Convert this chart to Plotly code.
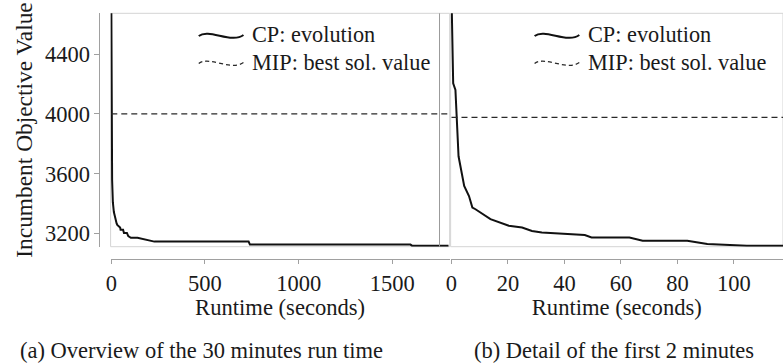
import plotly.graph_objects as go

# ---- data ----
time_s = [0, 0.6, 1.4, 1.6, 2.5, 4.5, 6.2, 7.4, 8.5, 13.8, 20.3, 25, 28.5, 32, 39,
          47.2, 49.6, 63, 67.7, 83.5, 90.6, 104.6, 140, 230, 733, 740, 1597, 1605, 1800]
cp_value = [4800, 4221, 4178, 4100, 3749, 3557, 3492, 3418, 3407, 3343, 3300, 3289, 3267, 3257, 3251,
            3240, 3225, 3225, 3203, 3203, 3182, 3171, 3171, 3145, 3145, 3125, 3125, 3118, 3118]
mip_value = 4000
marker_time = 1752

series_names = ["CP: evolution", "MIP: best sol. value"]
x_ticks_left = [0, 500, 1000, 1500]
x_ticks_right = [0, 20, 40, 60, 80, 100]
y_ticks = [3200, 3600, 4000, 4400]
captions = ["(a) Overview of the 30 minutes run time", "(b) Detail of the first 2 minutes"]

W, H = 783, 363
FONT = "Liberation Serif"
TXT = "#1a1a1a"
AX = "#a0a0a0"
BOX = "#d4d4d4"
CP_LINE = dict(color="#111111", width=2)
MIP_LINE = dict(color="#2a2a2a", width=1.3, dash="6px,4px")


def px(x):
    return x / W


def py(y):
    return (H - y) / H


fig = go.Figure()

for xa, ya in (("x", "y"), ("x2", "y2")):
    fig.add_trace(go.Scatter(x=time_s, y=cp_value, mode="lines", name=series_names[0],
                             line=CP_LINE, xaxis=xa, yaxis=ya, showlegend=False))
    fig.add_trace(go.Scatter(x=[time_s[0], time_s[-1]], y=[mip_value, mip_value], mode="lines",
                             name=series_names[1], line=MIP_LINE,
                             xaxis=xa, yaxis=ya, showlegend=False))

ydom = [py(246.7), py(13.3)]
tickfont = dict(family=FONT, size=22.5, color=TXT)
xtitlefont = dict(family=FONT, size=22.6, color=TXT)
ytitlefont = dict(family=FONT, size=23.4, color=TXT)

fig.update_layout(
    width=W, height=H,
    margin=dict(l=0, r=0, t=0, b=0),
    paper_bgcolor="white", plot_bgcolor="white",
    font=dict(family=FONT, size=23, color=TXT),
    showlegend=False,
    xaxis=dict(domain=[px(106.3), px(447.5)], range=[-3.5, 1806], anchor="free", position=py(258.5),
               tickvals=x_ticks_left, ticks="outside", ticklen=4, tickcolor=AX, showline=True,
               linecolor=AX, linewidth=1, showgrid=False, zeroline=False, tickfont=tickfont,
               title=dict(text="Runtime (seconds)", font=xtitlefont, standoff=4)),
    yaxis=dict(domain=ydom, range=[3111, 4673], anchor="free", position=px(95),
               tickvals=y_ticks, ticks="outside", ticklen=5, tickcolor=AX, showline=True,
               linecolor=AX, linewidth=1, showgrid=False, zeroline=False, tickfont=tickfont,
               title=dict(text="Incumbent Objective Value", font=ytitlefont, standoff=4)),
    xaxis2=dict(domain=[px(448.5), 1.0], range=[-0.3, 117.4], anchor="free", position=py(258.5),
                tickvals=x_ticks_right, ticks="outside", ticklen=4, tickcolor=AX, showline=True,
                linecolor=AX, linewidth=1, showgrid=False, zeroline=False, tickfont=tickfont,
                title=dict(text="Runtime (seconds)", font=xtitlefont, standoff=4)),
    yaxis2=dict(domain=ydom, range=[3165, 4673], anchor="x2", showticklabels=False, ticks="",
                showline=False, showgrid=False, zeroline=False),
)

# plot frames
for xr, yr in (("x domain", "y domain"), ("x2 domain", "y2 domain")):
    fig.add_shape(type="rect", xref=xr, yref=yr, x0=0, x1=1, y0=0, y1=1,
                  line=dict(color=BOX, width=1), fillcolor="rgba(0,0,0,0)", layer="below")

fig.add_shape(type="line", xref="x", yref="y domain", x0=marker_time, x1=marker_time, y0=0, y1=1,
              line=dict(color="#9a9a9a", width=1))


# legends (wavy line samples + labels), one per panel
def wave_path(x0, yc):
    pts = [(x0, yc + 1), (x0 + 10, yc - 7), (x0 + 33, yc + 9), (x0 + 45, yc)]
    (a, b), (c, d), (e, f), (g, h) = [(px(x), py(y)) for x, y in pts]
    return f"M{a},{b} C{c},{d} {e},{f} {g},{h}"


for gx, tx in ((195, 248), (533, 586)):
    for row, (name, style) in enumerate(zip(series_names, (CP_LINE, dict(MIP_LINE, dash="4px,3px")))):
        yc = 35 + row * 27.5
        fig.add_shape(type="path", xref="paper", yref="paper", path=wave_path(gx, yc),
                      line=style, fillcolor="rgba(0,0,0,0)")
        fig.add_annotation(text=name, xref="paper", yref="paper", x=px(tx), y=py(yc),
                           xanchor="left", yanchor="middle", showarrow=False, borderpad=0,
                           font=dict(family=FONT, size=22.3, color=TXT))

for cap, cx in zip(captions, (198, 613)):
    fig.add_annotation(text=cap, xref="paper", yref="paper",
                       x=px(cx), y=py(350), xanchor="center", yanchor="middle", showarrow=False,
                       font=dict(family=FONT, size=22.5, color=TXT))

fig.write_html("out.html")
